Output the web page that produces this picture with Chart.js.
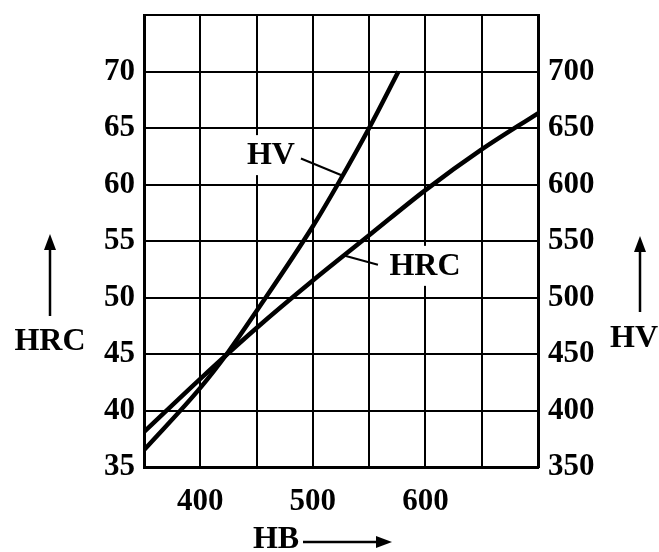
<!DOCTYPE html>
<html>
<head>
<meta charset="utf-8">
<script src="https://cdn.jsdelivr.net/npm/chart.js@4/dist/chart.umd.min.js"></script>
<style>
  html, body { margin: 0; padding: 0; background: #fff; }
  #wrap { width: 659px; height: 552px; }
</style>
</head>
<body>
<div id="wrap"><canvas id="c" width="659" height="552"></canvas></div>
<script>
// ---- data ----
const hbForHRC   = [350, 400, 450, 500, 550, 600, 650, 700];
const hrcValues  = [38.1, 42.8, 47.3, 51.5, 55.5, 59.5, 63.1, 66.3];
const hbForHV    = [350, 400, 425, 450, 500, 522, 550, 576];
const hvValues   = [365, 420, 452, 488, 563, 600, 650, 700];
const hbTickLabels  = [400, 500, 600];
const hrcTickLabels = [35, 40, 45, 50, 55, 60, 65, 70];
const hvTickLabels  = [350, 400, 450, 500, 550, 600, 650, 700];
const seriesNames = ['HRC', 'HV'];
const axisTitles = { x: 'HB', left: 'HRC', right: 'HV' };

const FONT = '"Liberation Serif", "Times New Roman", serif';

const annotPlugin = {
  id: 'annot',
  beforeDatasetsDraw(chart) {
    const ctx = chart.ctx, x = chart.scales.x, y = chart.scales.y;
    ctx.save();
    ctx.font = 'bold 32px ' + FONT;
    ctx.textAlign = 'center';
    ctx.textBaseline = 'middle';
    const labels = [
      { t: seriesNames[1], hb: 462.8, v: 62.6, lead: [[489.4, 62.3], [526.0, 60.8]] },
      { t: seriesNames[0], hb: 599.6, v: 52.8, lead: [[557.8, 52.9], [528.5, 53.7]] }
    ];
    labels.forEach(l => {
      const px = x.getPixelForValue(l.hb), py = y.getPixelForValue(l.v);
      const w = ctx.measureText(l.t).width;
      ctx.fillStyle = '#fff';
      ctx.fillRect(px - w / 2 - 6, py - 20, w + 12, 40);
      ctx.fillStyle = '#000';
      ctx.fillText(l.t, px, py + 1);
      ctx.strokeStyle = '#000';
      ctx.lineWidth = 2;
      ctx.beginPath();
      ctx.moveTo(x.getPixelForValue(l.lead[0][0]), y.getPixelForValue(l.lead[0][1]));
      ctx.lineTo(x.getPixelForValue(l.lead[1][0]), y.getPixelForValue(l.lead[1][1]));
      ctx.stroke();
    });
    ctx.restore();
  },
  afterDraw(chart) {
    const ctx = chart.ctx, a = chart.chartArea;
    ctx.save();
    ctx.fillStyle = '#000';
    ctx.strokeStyle = '#000';
    ctx.font = 'bold 32px ' + FONT;
    ctx.textAlign = 'center';
    ctx.textBaseline = 'middle';
    function arrow(x1, y1, x2, y2) {
      const ang = Math.atan2(y2 - y1, x2 - x1), hl = 16, hw = 6;
      ctx.lineWidth = 2.5;
      ctx.beginPath();
      ctx.moveTo(x1, y1);
      ctx.lineTo(x2 - Math.cos(ang) * (hl - 2), y2 - Math.sin(ang) * (hl - 2));
      ctx.stroke();
      ctx.beginPath();
      ctx.moveTo(x2, y2);
      ctx.lineTo(x2 - hl * Math.cos(ang) - hw * Math.sin(ang), y2 - hl * Math.sin(ang) + hw * Math.cos(ang));
      ctx.lineTo(x2 - hl * Math.cos(ang) + hw * Math.sin(ang), y2 - hl * Math.sin(ang) - hw * Math.cos(ang));
      ctx.closePath();
      ctx.fill();
    }
    ctx.fillText(axisTitles.left, a.left - 94, 342);
    arrow(a.left - 94, 316, a.left - 94, 234);
    ctx.fillText(axisTitles.right, a.right + 96, 339);
    arrow(a.right + 102, 312, a.right + 102, 236);
    ctx.fillText(axisTitles.x, 276, 540);
    arrow(303, 542, 392, 542);
    ctx.restore();
  }
};

function fitV(width) {
  return s => { s.width = width; s.paddingTop = 0; s.paddingBottom = 0; };
}

new Chart(document.getElementById('c'), {
  type: 'line',
  data: {
    datasets: [
      {
        label: seriesNames[0],
        data: hbForHRC.map((h, i) => ({ x: h, y: hrcValues[i] })),
        yAxisID: 'y',
        borderColor: '#000',
        borderWidth: 4.5,
        pointRadius: 0,
        cubicInterpolationMode: 'monotone',
        borderCapStyle: 'butt',
        fill: false
      },
      {
        label: seriesNames[1],
        data: hbForHV.map((h, i) => ({ x: h, y: hvValues[i] })),
        yAxisID: 'y1',
        borderColor: '#000',
        borderWidth: 4.5,
        pointRadius: 0,
        cubicInterpolationMode: 'monotone',
        borderCapStyle: 'butt',
        fill: false
      }
    ]
  },
  options: {
    responsive: false,
    animation: false,
    events: [],
    layout: { padding: { top: 15, left: 0, right: 0, bottom: 0 } },
    plugins: { legend: { display: false }, tooltip: { enabled: false }, title: { display: false } },
    scales: {
      x: {
        type: 'linear',
        min: 350, max: 700,
        afterFit: s => { s.height = 85; s.paddingLeft = 0; s.paddingRight = 0; },
        grid: { color: '#000', lineWidth: 2, drawTicks: false },
        border: { color: '#000', width: 3 },
        ticks: {
          stepSize: 50, autoSkip: false, maxRotation: 0, padding: 16,
          color: '#000', font: { family: FONT, size: 31, weight: 'bold' },
          callback: v => hbTickLabels.includes(v) ? String(v) : ''
        }
      },
      y: {
        type: 'linear', position: 'left',
        min: 35, max: 75,
        afterFit: fitV(144),
        grid: { color: '#000', lineWidth: 2, drawTicks: false },
        border: { color: '#000', width: 3 },
        ticks: {
          stepSize: 5, padding: 9, autoSkip: false,
          color: '#000', font: { family: FONT, size: 31, weight: 'bold' },
          callback: v => hrcTickLabels.includes(v) ? String(v) : ''
        }
      },
      y1: {
        type: 'linear', position: 'right',
        min: 350, max: 750,
        afterFit: fitV(121),
        grid: { display: false, drawTicks: false },
        border: { color: '#000', width: 3 },
        ticks: {
          stepSize: 50, padding: 10, autoSkip: false,
          color: '#000', font: { family: FONT, size: 31, weight: 'bold' },
          callback: v => hvTickLabels.includes(v) ? String(v) : ''
        }
      }
    }
  },
  plugins: [annotPlugin]
});
</script>
</body>
</html>
